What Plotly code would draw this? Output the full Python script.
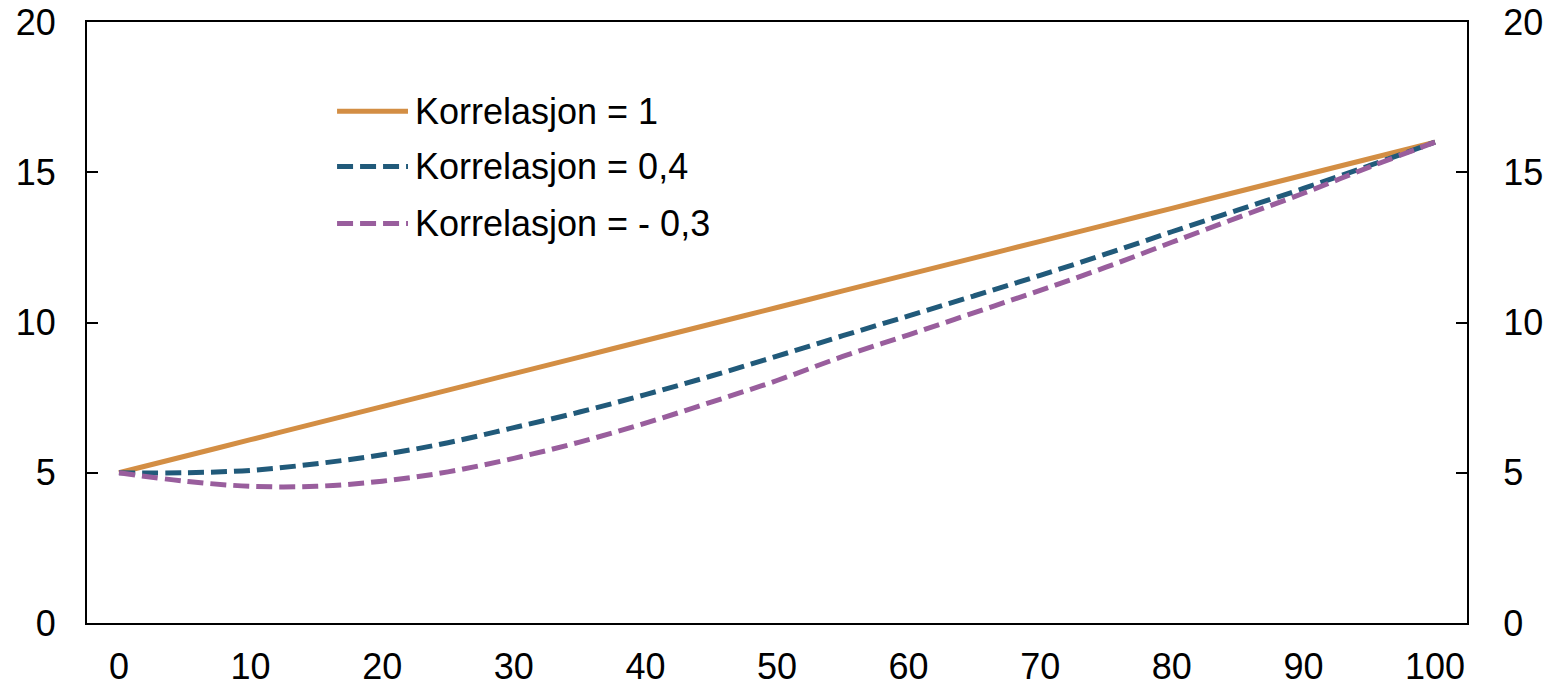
import plotly.graph_objects as go

x_vals = [0, 5, 10, 15, 20, 25, 30, 35, 40, 45, 50, 55, 60, 65, 70, 75, 80, 85, 90, 95, 100]
korr_1 = [5.00, 5.55, 6.10, 6.65, 7.20, 7.75, 8.30, 8.85, 9.40, 9.95, 10.50,
          11.05, 11.60, 12.15, 12.70, 13.25, 13.80, 14.35, 14.90, 15.45, 16.00]
korr_04 = [5.00, 5.00, 5.08, 5.30, 5.60, 6.00, 6.50, 7.02, 7.60, 8.22, 8.88,
           9.56, 10.22, 10.89, 11.57, 12.28, 13.02, 13.74, 14.46, 15.22, 16.00]
korr_m03 = [5.00, 4.72, 4.55, 4.55, 4.72, 5.03, 5.48, 6.02, 6.65, 7.35, 8.07,
            8.87, 9.59, 10.33, 11.07, 11.84, 12.67, 13.49, 14.30, 15.17, 16.00]

names = ["Korrelasjon = 1", "Korrelasjon = 0,4", "Korrelasjon = - 0,3"]
colors = ["#D38E44", "#215A7A", "#995E9D"]
dashes = ["solid", "16px,7px", "16px,7px"]
series = [korr_1, korr_04, korr_m03]

y_ticks = [0, 5, 10, 15, 20]
x_ticks = [0, 10, 20, 30, 40, 50, 60, 70, 80, 90, 100]

FONT = "Arial, Liberation Sans, sans-serif"

fig = go.Figure()
for name, ys, c, d in zip(names, series, colors, dashes):
    fig.add_trace(go.Scatter(x=x_vals, y=ys, mode="lines", name=name,
                             line=dict(color=c, width=5, dash=d, shape="spline"),
                             showlegend=False))
# invisible trace to activate the right-hand axis
fig.add_trace(go.Scatter(x=x_vals, y=korr_1, yaxis="y2", mode="lines",
                         line=dict(width=0), opacity=0, showlegend=False,
                         hoverinfo="skip"))

# custom legend (line samples + text)
leg_y = [0.8515, 0.7595, 0.6646]
for name, c, d, ly in zip(names, colors, dashes, leg_y):
    fig.add_shape(type="line", xref="paper", yref="paper",
                  x0=0.1812, x1=0.2326, y0=ly, y1=ly,
                  line=dict(color=c, width=5, dash=d))
    fig.add_annotation(xref="paper", yref="paper", x=0.2365, y=ly,
                       text=name, showarrow=False, xanchor="left", yanchor="middle",
                       font=dict(family=FONT, size=36, color="black"))

axis_common = dict(showgrid=False, zeroline=False, linecolor="black", linewidth=2,
                   automargin=False, ticklabeloverflow="allow",
                   tickfont=dict(family=FONT, size=36, color="black"))

fig.update_layout(
    width=1549, height=686,
    margin=dict(l=87, r=82, t=22, b=63),
    plot_bgcolor="white", paper_bgcolor="white",
    xaxis=dict(range=[-2.43, 102.43], tickvals=x_ticks, ticks="",
               showline=True, mirror=True, ticklabelstandoff=11, **axis_common),
    yaxis=dict(range=[0, 20], tickvals=y_ticks, ticks="inside", ticklen=11,
               tickwidth=2, tickcolor="black", showline=True, mirror=True,
               ticklabelstandoff=22, **axis_common),
    yaxis2=dict(range=[0, 20], tickvals=y_ticks, ticks="inside", ticklen=11,
                tickwidth=2, tickcolor="black", overlaying="y", side="right",
                showline=True, ticklabelstandoff=27, **axis_common),
    showlegend=False,
)

fig.write_html("out.html", config={"displayModeBar": False},
               post_script="document.body.style.margin='0';document.body.style.overflow='hidden';")
